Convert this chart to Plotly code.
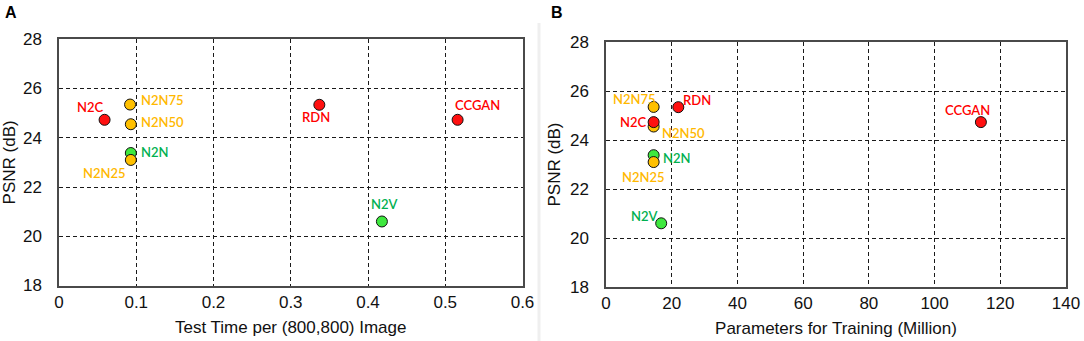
import plotly.graph_objects as go

# ---- data ----
methods = ["N2N75", "N2N50", "N2N", "N2N25", "N2C", "RDN", "CCGAN", "N2V"]
psnr = [25.35, 24.55, 23.38, 23.10, 24.73, 25.34, 24.73, 20.60]
test_time = [0.092, 0.093, 0.093, 0.093, 0.059, 0.337, 0.516, 0.418]
params_million = [14.5, 14.5, 14.5, 14.5, 14.5, 22.0, 114.1, 16.8]
groups = ["N2N", "N2N", "N2V", "N2N", "GAN", "GAN", "GAN", "N2V"]

x_ticks_a = [0, 0.1, 0.2, 0.3, 0.4, 0.5, 0.6]
x_ticks_b = [0, 20, 40, 60, 80, 100, 120, 140]
y_ticks = [18, 20, 22, 24, 26, 28]

# ---- styles ----
W, H = 1084, 341
fill = {"N2N": "#FFC000", "N2V": "#3EE83E", "GAN": "#FF1010"}
text_col = {"N2N": "#FFB800", "N2V": "#00B050", "GAN": "#FF0000"}
# label centre offsets (px, +x right, +y up) per method
off_a = {"N2C": (-14, 13), "N2N75": (32, 5), "N2N50": (32, 2), "N2N": (24, 1),
         "N2N25": (-26, -13), "RDN": (-3, -12), "CCGAN": (20, 15), "N2V": (3, 17)}
off_b = {"N2N75": (-19, 8), "RDN": (19, 7), "N2C": (-20, 0), "N2N50": (30, -6),
         "N2N": (23, -3), "N2N25": (-10, -15), "CCGAN": (-13, 12), "N2V": (-17, 7)}

def px(x0, x1):
    return [x0 / W, x1 / W]

def py(top, bottom):
    return [1 - bottom / H, 1 - top / H]

fig = go.Figure()
fig.add_trace(go.Scatter(
    x=test_time, y=psnr, mode="markers", xaxis="x", yaxis="y",
    marker=dict(size=11, color=[fill[g] for g in groups], line=dict(color="#111", width=1)),
    hoverinfo="text", text=methods, showlegend=False))
fig.add_trace(go.Scatter(
    x=params_million, y=psnr, mode="markers", xaxis="x2", yaxis="y2",
    marker=dict(size=11, color=[fill[g] for g in groups], line=dict(color="#111", width=1)),
    hoverinfo="text", text=methods, showlegend=False))

label_font = dict(family="Lato, Open Sans, sans-serif", size=13, weight=600)
ann = []
for m, g, xa, xb, yv in zip(methods, groups, test_time, params_million, psnr):
    dx, dy = off_a[m]
    ann.append(dict(x=xa, y=yv, xref="x", yref="y", text=m, showarrow=False,
                    xshift=dx, yshift=dy, font=dict(label_font, color=text_col[g])))
    dx, dy = off_b[m]
    ann.append(dict(x=xb, y=yv, xref="x2", yref="y2", text=m, showarrow=False,
                    xshift=dx, yshift=dy, font=dict(label_font, color=text_col[g])))

for letter, cx in (("A", 11), ("B", 557)):
    ann.append(dict(x=cx / W, y=1 - 13 / H, xref="paper", yref="paper", text=f"<b>{letter}</b>",
                    xanchor="center", yanchor="middle", showarrow=False,
                    font=dict(family="Liberation Sans, Arial", size=16, color="#000")))

axis_common = dict(showgrid=True, gridcolor="#1a1a1a", griddash="4px,3px", gridwidth=1,
                   zeroline=False, showline=True, mirror=True, linecolor="#4a4a4a", linewidth=1.5,
                   ticks="", automargin=False,
                   tickfont=dict(family="Liberation Sans, Arial", size=17, color="#111"),
                   title_font=dict(family="Liberation Sans, Arial", size=17, color="#111"))

fig.update_layout(
    width=W, height=H, margin=dict(l=0, r=0, t=0, b=0, autoexpand=False),
    paper_bgcolor="white", plot_bgcolor="white",
    xaxis=dict(axis_common, domain=px(59, 522.5), range=[0, 0.6], tickvals=x_ticks_a,
               ticktext=[f"{v:g}" for v in x_ticks_a], anchor="y",
               title=dict(text="Test Time per (800,800) Image", standoff=10), ticklabelstandoff=0),
    yaxis=dict(axis_common, domain=py(39.3, 285.5), range=[18, 28], tickvals=y_ticks, anchor="x",
               title=dict(text="PSNR (dB)", standoff=5), ticklabelstandoff=12),
    xaxis2=dict(axis_common, domain=px(606, 1066), range=[0, 140], tickvals=x_ticks_b, anchor="y2",
                title=dict(text="Parameters for Training (Million)", standoff=10), ticklabelstandoff=0),
    yaxis2=dict(axis_common, domain=py(42, 287), range=[18, 28], tickvals=y_ticks, anchor="x2",
                title=dict(text="PSNR (dB)", standoff=5), ticklabelstandoff=12),
    annotations=ann,
    shapes=[dict(type="line", xref="paper", yref="paper", x0=539 / W, x1=539 / W,
                 y0=0, y1=1 - 23 / H, line=dict(color="#efefef", width=3))],
)

fig.write_html("out.html", config={"displayModeBar": False},
               post_script="document.body.style.margin='0';document.body.style.overflow='hidden';")
